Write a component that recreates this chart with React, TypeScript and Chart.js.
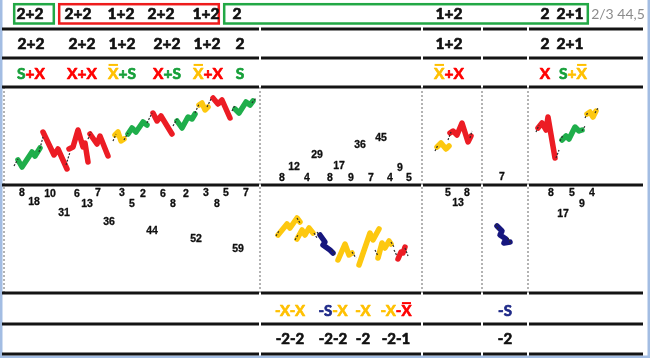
import React, { useEffect, useRef } from 'react';
import { Chart, registerables } from 'chart.js';
Chart.register(...registerables);

const WIDTH = 650;
const HEIGHT = 358;

const WAVE_COLORS: Record<string, string> = { g: '#1fae4b', r: '#ec1c24', y: '#fdc80f', n: '#16167e' };
const TEXT_COLORS: Record<string, string> = { g: '#17a03a', r: '#ff0000', y: '#ffc000', n: '#1f2a88', k: '#111111' };

// ---- table structure ----
const rowLineY = [29, 58, 87, 185, 293, 324, 354];
const columnEdges = [2, 260, 422, 482, 528, 644];
const dottedX = [4, 260, 422, 482, 528];
const bandTop = 87;
const bandBottom = 293;

// ---- header boxes ----
const boxColors = ['g', 'r', 'g'];
const boxSpans = [[13, 55], [58, 220], [223, 589]];

// ---- header / count labels ----
const headerLabels = ['2+2', '2+2', '1+2', '2+2', '1+2', '2', '1+2', '2', '2+1'];
const headerX = [30, 78, 121, 161, 206, 237, 449, 545, 570];
const countLabels = ['2+2', '2+2', '1+2', '2+2', '1+2', '2', '1+2', '2', '2+1'];
const countX = [31, 82, 122, 167, 207, 240, 449, 545, 570];
const ratioLabel = '2/3 44,5';

type Seg = [string, string, boolean?];
const typeLabels: Seg[][] = [
  [['S', 'g'], ['+X', 'r']],
  [['X+X', 'r']],
  [['X', 'y', true], ['+S', 'g']],
  [['X', 'r'], ['+S', 'g']],
  [['X', 'y', true], ['+X', 'r']],
  [['S', 'g']],
  [['X', 'y', true], ['+X', 'r']],
  [['X', 'r']],
  [['S', 'g'], ['+', 'y'], ['X', 'y', true]],
];
const typeX = [31, 82, 122, 167, 208, 240, 449, 545, 573];

const negTypeLabels: Seg[][] = [
  [['-X-X', 'y']],
  [['-S', 'n'], ['-X', 'y']],
  [['-X', 'y']],
  [['-X', 'y'], ['-', 'r'], ['X', 'r', true]],
  [['-S', 'n']],
];
const negCountLabels = ['-2-2', '-2-2', '-2', '-2-1', '-2'];
const negX = [290, 333, 363, 396, 505];

// ---- counts inside the chart bands ----
const upperCounts = ['8', '12', '4', '29', '8', '17', '9', '36', '7', '45', '4', '9', '5', '7'];
const upperCountX = [282, 294, 307, 317, 330, 339, 351, 360, 371, 381, 390, 400, 409, 502];
const upperCountY = [178, 167, 178, 155, 178, 166, 178, 145, 178, 138, 178, 168, 178, 177];

const lowerCounts = ['8', '18', '10', '31', '6', '13', '7', '36', '3', '5', '2', '44', '6', '8', '2', '52', '3', '8', '5', '59', '7',
  '5', '8', '13', '8', '5', '4', '9', '17'];
const lowerCountX = [22, 34, 50, 64, 77, 87, 98, 109, 122, 132, 143, 152, 163, 173, 186, 196, 206, 217, 226, 238, 246,
  448, 467, 458, 551, 572, 592, 582, 563];
const lowerCountY = [193, 202, 194, 213, 194, 204, 193, 222, 193, 204, 194, 231, 194, 204, 194, 239, 193, 204, 193, 249, 193,
  193, 193, 203, 193, 193, 193, 204, 214];

// ---- wave series (x, y in table units) ----
const waveColors = ['g', 'r', 'r', 'r', 'y', 'g', 'r', 'g', 'y', 'r', 'g',
  'y', 'r', 'r', 'g', 'y',
  'y', 'y', 'n', 'y', 'y', 'y', 'r', 'n'];
const wavePoints: number[][][] = [
  [[18, 160], [22, 167], [32, 152], [35, 156], [40, 148]],
  [[43, 132], [54, 155], [58, 149], [67, 169]],
  [[69, 149], [73, 147], [78, 130], [83, 147], [85, 143], [88, 162]],
  [[90, 134], [97, 144], [100, 136], [108, 156]],
  [[115, 135], [118, 132], [121, 141], [124, 139]],
  [[128, 134], [132, 128], [136, 132], [143, 122], [147, 125]],
  [[153, 113], [157, 121], [161, 116], [172, 134]],
  [[177, 121], [182, 128], [188, 117], [192, 119], [195, 114]],
  [[199, 105], [202, 103], [205, 110], [208, 107]],
  [[213, 98], [218, 104], [222, 100], [230, 118]],
  [[235, 109], [239, 113], [246, 102], [250, 105], [253, 101]],
  [[437, 147], [441, 143], [446, 149], [449, 146]],
  [[450, 133], [453, 131], [457, 135], [462, 123], [468, 142], [471, 136]],
  [[538, 128], [542, 123], [546, 130], [548, 117], [555, 158]],
  [[562, 140], [566, 136], [569, 139], [575, 127], [579, 131], [582, 130]],
  [[587, 114], [590, 112], [593, 117], [596, 111]],
  [[278, 235], [287, 224], [290, 228], [297, 218], [300, 222]],
  [[297, 239], [302, 230], [305, 235], [309, 228], [313, 233]],
  [[320, 235], [325, 242], [323, 245], [330, 250], [333, 253]],
  [[338, 260], [345, 244], [349, 255], [352, 253]],
  [[359, 265], [370, 233], [373, 240], [379, 229]],
  [[378, 258], [382, 243], [385, 248], [389, 241], [391, 244]],
  [[398, 259], [401, 252], [403, 253], [405, 247]],
  [[497, 226], [502, 231], [500, 235], [506, 239], [504, 243], [510, 242]],
];

// short dashed connectors between waves
const connectorPoints: number[][][] = [
  [[14, 166], [18, 159]], [[39, 152], [43, 137]], [[66, 165], [70, 152]], [[88, 139], [91, 132]],
  [[113, 141], [116, 134]], [[124, 140], [128, 133]], [[147, 123], [152, 113]], [[173, 126], [177, 119]],
  [[195, 113], [199, 104]], [[207, 107], [211, 99]], [[232, 111], [235, 105]], [[252, 103], [256, 98]],
  [[435, 151], [438, 145]], [[448, 140], [451, 132]], [[470, 138], [472, 131]],
  [[536, 132], [539, 125]], [[556, 158], [559, 150]], [[560, 141], [563, 135]], [[582, 131], [585, 126]],
  [[585, 118], [588, 112]], [[595, 113], [598, 108]],
  [[276, 236], [279, 231]], [[297, 218], [300, 223]], [[295, 240], [298, 235]], [[314, 233], [317, 238]],
  [[317, 232], [320, 236]], [[332, 250], [335, 255]], [[352, 252], [356, 258]], [[375, 250], [378, 256]],
  [[391, 242], [394, 247]], [[394, 250], [397, 256]], [[405, 248], [408, 256]],
  [[496, 224], [498, 229]], [[508, 238], [511, 244]],
];

const BIG_FONT = (size: number) => `bold ${size}px Lato, "Open Sans", sans-serif`;

function drawRich(ctx: CanvasRenderingContext2D, segs: Seg[], cx: number, cy: number, size: number) {
  ctx.font = BIG_FONT(size);
  ctx.textAlign = 'left';
  ctx.textBaseline = 'alphabetic';
  ctx.lineJoin = 'round';
  ctx.lineWidth = 0.7;
  const widths = segs.map((s) => ctx.measureText(s[0]).width);
  const total = widths.reduce((a, b) => a + b, 0);
  let x = cx - total / 2;
  const base = cy + size * 0.36;
  segs.forEach((s, i) => {
    ctx.fillStyle = TEXT_COLORS[s[1]];
    ctx.strokeStyle = TEXT_COLORS[s[1]];
    ctx.fillText(s[0], x, base);
    ctx.strokeText(s[0], x, base);
    if (s[2]) ctx.fillRect(x + 0.5, base - size * 0.72 - 3.5, widths[i] - 1, 2);
    x += widths[i];
  });
}

const tablePlugin = {
  id: 'tablePlugin',
  beforeDatasetsDraw(chart: any) {
    const { ctx, scales } = chart;
    const px = (v: number) => scales.x.getPixelForValue(v);
    const py = (v: number) => scales.y.getPixelForValue(v);
    ctx.save();
    ctx.fillStyle = '#ffffff';
    ctx.fillRect(0, 0, chart.width, chart.height);
    // blue frame
    ctx.fillStyle = '#a3bde3';
    ctx.fillRect(px(0), py(0), px(2.5) - px(0), py(358) - py(0));
    ctx.fillRect(px(647.5), py(0), px(650) - px(647.5), py(358) - py(0));
    ctx.fillRect(px(0), py(355.5), px(650) - px(0), py(358) - py(355.5));
    // dotted verticals in the chart band
    ctx.strokeStyle = '#8a8a8a';
    ctx.lineWidth = 1.3;
    ctx.setLineDash([2, 2]);
    dottedX.forEach((v) => {
      ctx.beginPath();
      ctx.moveTo(px(v), py(bandTop));
      ctx.lineTo(px(v), py(bandBottom));
      ctx.stroke();
    });
    ctx.setLineDash([]);
    // thick horizontal rules
    ctx.strokeStyle = '#141414';
    ctx.lineWidth = 3;
    rowLineY.forEach((ry) => {
      for (let i = 0; i < columnEdges.length - 1; i++) {
        ctx.beginPath();
        ctx.moveTo(px(columnEdges[i] + (i === 0 ? 0 : 1)), py(ry));
        ctx.lineTo(px(columnEdges[i + 1] - 1), py(ry));
        ctx.stroke();
      }
    });
    // header boxes
    ctx.lineWidth = 2.5;
    boxSpans.forEach((s, i) => {
      ctx.strokeStyle = boxColors[i] === 'g' ? '#22a845' : '#ee1c1c';
      ctx.strokeRect(px(s[0] + 1.2), py(4.2), px(s[1]) - px(s[0] + 2.4), py(23.5) - py(4.2));
    });
    ctx.restore();
  },
  afterDatasetsDraw(chart: any) {
    const { ctx, scales } = chart;
    const px = (v: number) => scales.x.getPixelForValue(v);
    const py = (v: number) => scales.y.getPixelForValue(v);
    ctx.save();
    const big = 15.5;
    headerLabels.forEach((t, i) => drawRich(ctx, [[t, 'k']], px(headerX[i]), py(13.5), big));
    countLabels.forEach((t, i) => drawRich(ctx, [[t, 'k']], px(countX[i]), py(43.5), big));
    typeLabels.forEach((segs, i) => drawRich(ctx, segs, px(typeX[i]), py(73), big));
    negTypeLabels.forEach((segs, i) => drawRich(ctx, segs, px(negX[i]), py(311), 15));
    negCountLabels.forEach((t, i) => drawRich(ctx, [[t, 'k']], px(negX[i]), py(339), 15));
    // ratio text
    ctx.font = '14px Lato, "Open Sans", sans-serif';
    ctx.fillStyle = '#8c8c8c';
    ctx.textAlign = 'center';
    ctx.textBaseline = 'middle';
    ctx.fillText(ratioLabel, px(618), py(14));
    // small counts
    ctx.font = 'bold 10.5px "Liberation Sans", Arial, sans-serif';
    ctx.fillStyle = '#111111';
    ctx.strokeStyle = '#111111';
    ctx.lineWidth = 0.3;
    upperCounts.forEach((t, i) => {
      ctx.fillText(t, px(upperCountX[i]), py(upperCountY[i]));
      ctx.strokeText(t, px(upperCountX[i]), py(upperCountY[i]));
    });
    lowerCounts.forEach((t, i) => {
      ctx.fillText(t, px(lowerCountX[i]), py(lowerCountY[i]));
      ctx.strokeText(t, px(lowerCountX[i]), py(lowerCountY[i]));
    });
    ctx.restore();
  },
};

export default function App() {
  const ref = useRef<HTMLCanvasElement>(null);
  useEffect(() => {
    if (!ref.current) return;
    const waveSets = wavePoints.map((pts, i) => ({
      data: pts.map(([x, y]) => ({ x, y })),
      showLine: true,
      borderColor: WAVE_COLORS[waveColors[i]],
      backgroundColor: WAVE_COLORS[waveColors[i]],
      borderWidth: 5.5,
      borderCapStyle: 'round' as const,
      borderJoinStyle: 'round' as const,
      pointRadius: 0,
      tension: 0,
      order: 2,
    }));
    const connSets = connectorPoints.map((pts) => ({
      data: pts.map(([x, y]) => ({ x, y })),
      showLine: true,
      borderColor: '#2a2a2a',
      borderWidth: 1.2,
      borderDash: [2, 1.5],
      pointRadius: 0,
      order: 1,
    }));
    const chart = new Chart(ref.current, {
      type: 'scatter',
      data: { datasets: [...waveSets, ...connSets] as any },
      options: {
        animation: false,
        responsive: false,
        events: [],
        layout: { padding: 0 },
        plugins: { legend: { display: false }, tooltip: { enabled: false } },
        scales: {
          x: { type: 'linear', min: 0, max: WIDTH, display: false },
          y: { type: 'linear', min: 0, max: HEIGHT, reverse: true, display: false },
        },
      },
      plugins: [tablePlugin],
    });
    return () => chart.destroy();
  }, []);
  return (
    <div style={{ position: 'fixed', left: 0, top: 0, width: WIDTH, height: HEIGHT, background: '#fff' }}>
      <canvas ref={ref} width={WIDTH} height={HEIGHT} style={{ display: 'block' }} />
    </div>
  );
}
